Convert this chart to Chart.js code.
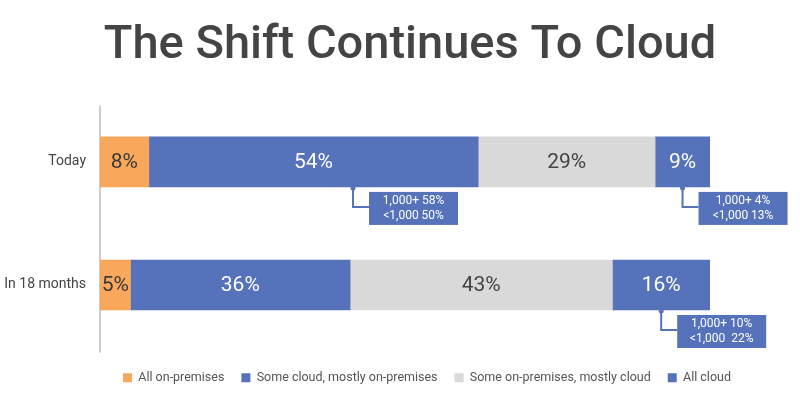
<!DOCTYPE html>
<html><head><meta charset="utf-8">
<script src="https://cdn.jsdelivr.net/npm/chart.js@4.4.0/dist/chart.umd.min.js"></script>
<style>html,body{margin:0;padding:0;background:#fff}#wrap{width:800px;height:400px}</style>
</head><body><div id="wrap"><canvas id="c" width="800" height="400"></canvas></div>
<script>
const titleText = 'The Shift Continues To Cloud';
const categories = ['Today', 'In 18 months'];
const seriesNames = ['All on-premises', 'Some cloud, mostly on-premises', 'Some on-premises, mostly cloud', 'All cloud'];
const allOnPrem = [8, 5];
const someCloud = [54, 36];
const someOnPrem = [29, 43];
const allCloud = [9, 16];
const calloutSomeCloud = [['1,000+ 58%', '<1,000 50%'], null];
const calloutAllCloud = [['1,000+ 4%', '<1,000 13%'], ['1,000+ 10%', '<1,000  22%']];

const ORANGE = '#F9A75A', BLUE = '#5572BA', GRAY = '#D9D9D9';
const FONT = 'Roboto';

const axisLine = {
  id: 'axisLine',
  beforeDatasetsDraw(chart) {
    const a = chart.chartArea, ctx = chart.ctx;
    ctx.save();
    ctx.strokeStyle = '#cccccc';
    ctx.lineWidth = 2;
    ctx.beginPath();
    ctx.moveTo(a.left, a.top + 5);
    ctx.lineTo(a.left, a.bottom + 6);
    ctx.stroke();
    ctx.restore();
  }
};

const valueLabels = {
  id: 'valueLabels',
  afterDatasetsDraw(chart) {
    const ctx = chart.ctx;
    ctx.save();
    ctx.font = '21px ' + FONT;
    ctx.textAlign = 'center';
    ctx.textBaseline = 'middle';
    chart.data.datasets.forEach((ds, di) => {
      const meta = chart.getDatasetMeta(di);
      meta.data.forEach((bar, i) => {
        const cx = (bar.x + bar.base) / 2;
        ctx.fillStyle = ds.labelColor;
        ctx.fillText(ds.data[i] + '%', cx, bar.y + 1);
      });
    });
    chart.data.datasets.forEach((ds, di) => {
      if (!ds.callouts) return;
      const meta = chart.getDatasetMeta(di);
      meta.data.forEach((bar, i) => {
        const lines = ds.callouts[i];
        if (!lines) return;
        const left = Math.min(bar.base, bar.x), right = Math.max(bar.base, bar.x);
        const ax = left + (right - left) * ds.calloutAt;
        const bb = bar.y + bar.height / 2;
        const bw = 89, bh = 33;
        const bx = ax + 16, by = bb + 5;
        ctx.strokeStyle = BLUE;
        ctx.lineWidth = 2;
        ctx.beginPath();
        ctx.moveTo(ax, bb);
        ctx.lineTo(ax, by + 15);
        ctx.lineTo(bx, by + 15);
        ctx.stroke();
        ctx.fillStyle = BLUE;
        ctx.beginPath();
        ctx.arc(ax, bb + 1, 2.5, 0, Math.PI * 2);
        ctx.fill();
        ctx.fillRect(bx, by, bw, bh);
        ctx.fillStyle = '#fff';
        ctx.font = '12px ' + FONT;
        ctx.textAlign = 'center';
        ctx.textBaseline = 'middle';
        ctx.fillText(lines[0], bx + bw / 2, by + 9.5);
        ctx.fillText(lines[1], bx + bw / 2, by + 24);
      });
    });
    ctx.restore();
  }
};

const shiftBlocks = {
  id: 'shiftBlocks',
  afterLayout(chart) {
    if (chart.legend) { chart.legend.left += 27; chart.legend.right += 27; }
    if (chart.titleBlock) { chart.titleBlock.left += 10; chart.titleBlock.right += 10; }
  }
};

new Chart(document.getElementById('c'), {
  type: 'bar',
  data: {
    labels: categories,
    datasets: [
      { label: seriesNames[0], data: allOnPrem, backgroundColor: ORANGE, labelColor: '#3a3a3a' },
      { label: seriesNames[1], data: someCloud, backgroundColor: BLUE, labelColor: '#ffffff', callouts: calloutSomeCloud, calloutAt: 0.62 },
      { label: seriesNames[2], data: someOnPrem, backgroundColor: GRAY, labelColor: '#444444' },
      { label: seriesNames[3], data: allCloud, backgroundColor: BLUE, labelColor: '#ffffff', callouts: calloutAllCloud, calloutAt: 0.5 }
    ]
  },
  options: {
    indexAxis: 'y',
    responsive: false,
    animation: false,
    devicePixelRatio: 1,
    layout: { padding: { top: 0, bottom: 6, left: 0, right: 0 } },
    datasets: { bar: { barThickness: 50, borderWidth: 0 } },
    scales: {
      x: {
        stacked: true, min: 0, max: 100, display: true,
        grid: { display: false }, border: { display: false },
        ticks: { display: false },
        afterFit(s) { s.height = 8; }
      },
      y: {
        stacked: true,
        grid: { display: false },
        border: { display: false },
        ticks: { color: '#444', font: { family: FONT, size: 14 }, padding: 6 },
        afterFit(s) { s.width = 100; }
      },
      yRight: {
        type: 'category', labels: categories, position: 'right', display: true,
        grid: { display: false }, border: { display: false },
        ticks: { display: false },
        afterFit(s) { s.width = 90; }
      }
    },
    plugins: {
      title: {
        display: true, text: titleText, color: '#444',
        font: { family: FONT, size: 47, weight: '500' },
        padding: { top: 18, bottom: 26 }
      },
      legend: {
        position: 'bottom',
        labels: {
          boxWidth: 9, boxHeight: 9, padding: 17, color: '#555',
          font: { family: FONT, size: 12.5 }
        }
      },
      tooltip: { enabled: false }
    }
  },
  plugins: [axisLine, valueLabels, shiftBlocks]
});
</script>
</body></html>
